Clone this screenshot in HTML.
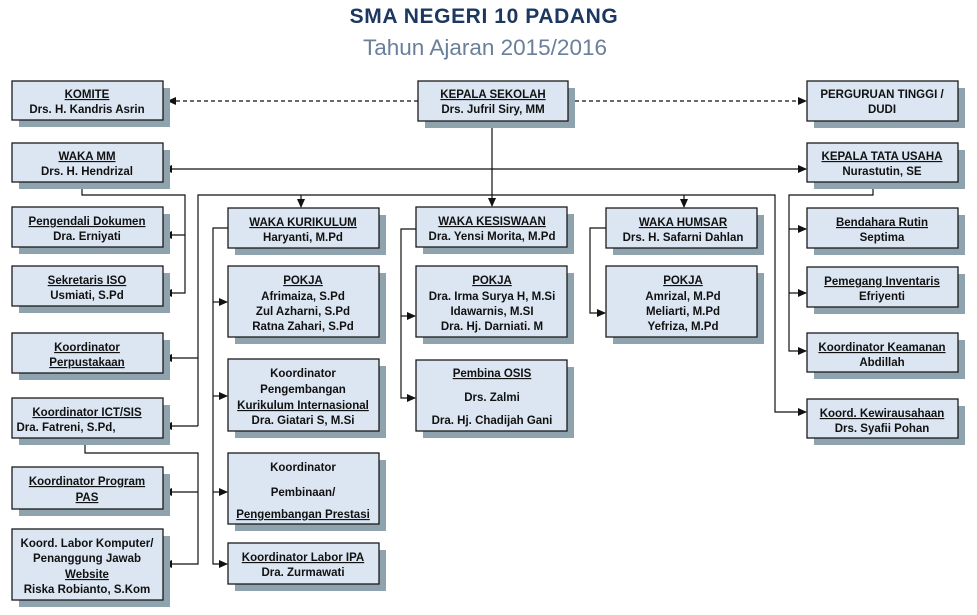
<!DOCTYPE html>
<html><head><meta charset="utf-8"><style>
html,body{margin:0;padding:0;background:#fff;}
svg{display:block;}
text{font-family:"Liberation Sans",sans-serif;font-weight:bold;font-size:11.5px;fill:#111;text-anchor:middle;}
.u{text-decoration:underline;}
.b{fill:#dce6f2;stroke:#1a1a1a;stroke-width:1.3;}
.s{fill:#8ea3ad;}
.l{stroke:#111;stroke-width:1.2;fill:none;}
</style></head><body>
<svg width="977" height="615" viewBox="0 0 977 615" xmlns="http://www.w3.org/2000/svg">
<defs><marker id="a" markerWidth="9" markerHeight="9" refX="8" refY="4.5" orient="auto" markerUnits="userSpaceOnUse"><path d="M0,0.5 L9,4.5 L0,8.5z" fill="#111"/></marker></defs>
<text x="484" y="23" style="font-size:21px;letter-spacing:0.6px;fill:#1c3760;">SMA NEGERI 10 PADANG</text>
<text x="485" y="55" style="font-size:22.5px;font-weight:normal;fill:#6a7f99;">Tahun Ajaran 2015/2016</text>

<path class="l" d="M418,101 L168,101" stroke-dasharray="4,3" marker-end="url(#a)"/>
<path class="l" d="M568,101 L806,101" stroke-dasharray="4,3" marker-end="url(#a)"/>
<path class="l" d="M492,121 L492,206" marker-end="url(#a)"/>
<path class="l" d="M492,169 L164,169" marker-end="url(#a)"/>
<path class="l" d="M492,169 L806,169" marker-end="url(#a)"/>
<path class="l" d="M82,182 L82,195 L185,195 L185,293 L164,293" marker-end="url(#a)"/>
<path class="l" d="M185,235 L164,235" marker-end="url(#a)"/>
<path class="l" d="M198,426 L198,195 L775,195 L775,412 L806,412" marker-end="url(#a)"/>
<path class="l" d="M198,358 L164,358" marker-end="url(#a)"/>
<path class="l" d="M198,426 L164,426" marker-end="url(#a)"/>
<path class="l" d="M301,195 L301,207" marker-end="url(#a)"/>
<path class="l" d="M684,195 L684,207" marker-end="url(#a)"/>
<path class="l" d="M873,182 L873,195 L789,195 L789,351 L806,351" marker-end="url(#a)"/>
<path class="l" d="M789,229 L806,229" marker-end="url(#a)"/>
<path class="l" d="M789,293 L806,293" marker-end="url(#a)"/>
<path class="l" d="M85,438 L85,453 L198,453 L198,564 L164,564" marker-end="url(#a)"/>
<path class="l" d="M198,492 L164,492" marker-end="url(#a)"/>
<path class="l" d="M228,228 L213,228 L213,564 L227,564" marker-end="url(#a)"/>
<path class="l" d="M213,302 L227,302" marker-end="url(#a)"/>
<path class="l" d="M213,396 L227,396" marker-end="url(#a)"/>
<path class="l" d="M213,492 L227,492" marker-end="url(#a)"/>
<path class="l" d="M416,229 L401,229 L401,398 L415,398" marker-end="url(#a)"/>
<path class="l" d="M401,316 L415,316" marker-end="url(#a)"/>
<path class="l" d="M606,228 L590,228 L590,313 L605,313" marker-end="url(#a)"/>

<g>
<rect class="s" x="19" y="88" width="151" height="39"/><rect class="b" x="12" y="81" width="151" height="39"/>
<text x="87" y="98" class="u">KOMITE</text><text x="87" y="113">Drs. H. Kandris Asrin</text>

<rect class="s" x="425" y="88" width="150" height="40"/><rect class="b" x="418" y="81" width="150" height="40"/>
<text x="493" y="98" class="u">KEPALA SEKOLAH</text><text x="493" y="113">Drs. Jufril Siry, MM</text>

<rect class="s" x="814" y="88" width="151" height="40"/><rect class="b" x="807" y="81" width="151" height="40"/>
<text x="882" y="98">PERGURUAN TINGGI /</text><text x="882" y="113">DUDI</text>

<rect class="s" x="19" y="150" width="151" height="39"/><rect class="b" x="12" y="143" width="151" height="39"/>
<text x="87" y="160" class="u">WAKA MM</text><text x="87" y="175">Drs. H. Hendrizal</text>

<rect class="s" x="814" y="150" width="151" height="39"/><rect class="b" x="807" y="143" width="151" height="39"/>
<text x="882" y="160" class="u">KEPALA TATA USAHA</text><text x="882" y="175">Nurastutin, SE</text>

<rect class="s" x="19" y="214" width="151" height="40"/><rect class="b" x="12" y="207" width="151" height="40"/>
<text x="87" y="225" class="u">Pengendali Dokumen</text><text x="87" y="240">Dra. Erniyati</text>

<rect class="s" x="19" y="273" width="151" height="40"/><rect class="b" x="12" y="266" width="151" height="40"/>
<text x="87" y="284" class="u">Sekretaris ISO</text><text x="87" y="299">Usmiati, S.Pd</text>

<rect class="s" x="19" y="340" width="151" height="40"/><rect class="b" x="12" y="333" width="151" height="40"/>
<text x="87" y="351" class="u">Koordinator</text><text x="87" y="366" class="u">Perpustakaan</text>

<rect class="s" x="19" y="405" width="151" height="40"/><rect class="b" x="12" y="398" width="151" height="40"/>
<text x="87" y="416" class="u">Koordinator ICT/SIS</text><text x="66" y="431">Dra. Fatreni, S.Pd,</text>

<rect class="s" x="19" y="474" width="151" height="42"/><rect class="b" x="12" y="467" width="151" height="42"/>
<text x="87" y="485" class="u">Koordinator Program</text><text x="87" y="501" class="u">PAS</text>

<rect class="s" x="19" y="536" width="151" height="71"/><rect class="b" x="12" y="529" width="151" height="71"/>
<text x="87" y="547">Koord. Labor Komputer/</text><text x="87" y="562">Penanggung Jawab</text><text x="87" y="578" class="u">Website</text><text x="87" y="593">Riska Robianto, S.Kom</text>

<rect class="s" x="235" y="215" width="151" height="40"/><rect class="b" x="228" y="208" width="151" height="40"/>
<text x="303" y="226" class="u">WAKA KURIKULUM</text><text x="303" y="241">Haryanti, M.Pd</text>

<rect class="s" x="235" y="273" width="151" height="71"/><rect class="b" x="228" y="266" width="151" height="71"/>
<text x="303" y="284" class="u">POKJA</text><text x="303" y="300">Afrimaiza, S.Pd</text><text x="303" y="315">Zul Azharni, S.Pd</text><text x="303" y="330">Ratna Zahari, S.Pd</text>

<rect class="s" x="235" y="366" width="151" height="72"/><rect class="b" x="228" y="359" width="151" height="72"/>
<text x="303" y="377">Koordinator</text><text x="303" y="393">Pengembangan</text><text x="303" y="409" class="u">Kurikulum Internasional</text><text x="303" y="424">Dra. Giatari S, M.Si</text>

<rect class="s" x="235" y="460" width="151" height="71"/><rect class="b" x="228" y="453" width="151" height="71"/>
<text x="303" y="471">Koordinator</text><text x="303" y="496">Pembinaan/</text><text x="303" y="518" class="u">Pengembangan Prestasi</text>

<rect class="s" x="235" y="550" width="151" height="41"/><rect class="b" x="228" y="543" width="151" height="41"/>
<text x="303" y="561" class="u">Koordinator Labor IPA</text><text x="303" y="576">Dra. Zurmawati</text>

<rect class="s" x="423" y="214" width="151" height="40"/><rect class="b" x="416" y="207" width="151" height="40"/>
<text x="492" y="225" class="u">WAKA KESISWAAN</text><text x="492" y="240">Dra. Yensi Morita, M.Pd</text>

<rect class="s" x="423" y="273" width="151" height="71"/><rect class="b" x="416" y="266" width="151" height="71"/>
<text x="492" y="284" class="u">POKJA</text><text x="492" y="300">Dra. Irma Surya H, M.Si</text><text x="492" y="315">Idawarnis, M.SI</text><text x="492" y="330">Dra. Hj. Darniati. M</text>

<rect class="s" x="423" y="367" width="151" height="71"/><rect class="b" x="416" y="360" width="151" height="71"/>
<text x="492" y="377" class="u">Pembina OSIS</text><text x="492" y="401">Drs. Zalmi</text><text x="492" y="424">Dra. Hj. Chadijah Gani</text>

<rect class="s" x="613" y="215" width="151" height="40"/><rect class="b" x="606" y="208" width="151" height="40"/>
<text x="683" y="226" class="u">WAKA HUMSAR</text><text x="683" y="241">Drs. H. Safarni Dahlan</text>

<rect class="s" x="613" y="273" width="151" height="71"/><rect class="b" x="606" y="266" width="151" height="71"/>
<text x="683" y="284" class="u">POKJA</text><text x="683" y="300">Amrizal, M.Pd</text><text x="683" y="315">Meliarti, M.Pd</text><text x="683" y="330">Yefriza, M.Pd</text>

<rect class="s" x="814" y="215" width="151" height="40"/><rect class="b" x="807" y="208" width="151" height="40"/>
<text x="882" y="226" class="u">Bendahara Rutin</text><text x="882" y="241">Septima</text>

<rect class="s" x="814" y="274" width="151" height="40"/><rect class="b" x="807" y="267" width="151" height="40"/>
<text x="882" y="285" class="u">Pemegang  Inventaris</text><text x="882" y="300">Efriyenti</text>

<rect class="s" x="814" y="340" width="151" height="39"/><rect class="b" x="807" y="333" width="151" height="39"/>
<text x="882" y="351" class="u">Koordinator Keamanan</text><text x="882" y="366">Abdillah</text>

<rect class="s" x="814" y="406" width="151" height="39"/><rect class="b" x="807" y="399" width="151" height="39"/>
<text x="882" y="417" class="u">Koord. Kewirausahaan</text><text x="882" y="432">Drs. Syafii  Pohan</text>
</g>
</svg>
</body></html>
